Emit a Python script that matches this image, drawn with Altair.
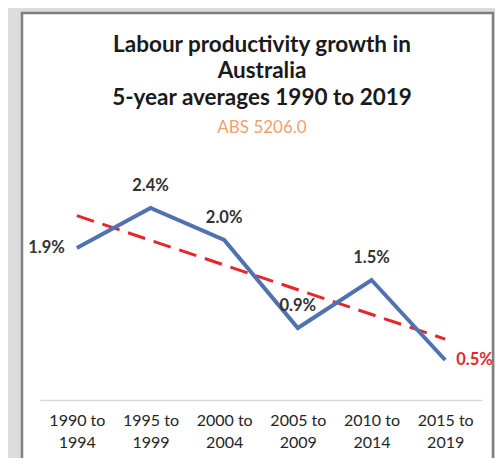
import altair as alt
import pandas as pd

periods = ["1990 to 1994", "1995 to 1999", "2000 to 2004", "2005 to 2009", "2010 to 2014", "2015 to 2019"]
growth = [1.9, 2.4, 2.0, 0.9, 1.5, 0.5]
labels = ["1.9%", "2.4%", "2.0%", "0.9%", "1.5%", "0.5%"]
title_lines = ["Labour productivity growth in", "Australia", "5-year averages 1990 to 2019"]
subtitle = "ABS 5206.0"

df = pd.DataFrame({"period": periods, "growth": growth, "label": labels})

FONT = "Lato"
xscale = alt.Scale(type="point", padding=0.5, domain=periods)
yscale = alt.Scale(domain=[0, 3])

base = alt.Chart(df)
one = alt.Data(values=[{"f": 1}])

frame = alt.Chart(one).mark_rect(
    fill="white", stroke="#7f7f7f", strokeWidth=2.5
).encode(
    x=alt.value(-18), x2=alt.value(453), y=alt.value(-147), y2=alt.value(320)
)

def title_text(txt, ypos, **kw):
    return alt.Chart(one).mark_text(font=FONT, align="center", baseline="middle", **kw).encode(
        x=alt.value(222), y=alt.value(ypos), text=alt.value(txt)
    )

titles = [
    title_text(title_lines[0], -115, fontSize=22.5, fontWeight="bold", color="#1a1a1a"),
    title_text(title_lines[1], -89, fontSize=22.5, fontWeight="bold", color="#1a1a1a"),
    title_text(title_lines[2], -62, fontSize=22.5, fontWeight="bold", color="#1a1a1a"),
    title_text(subtitle, -32, fontSize=17, color="#f0a070"),
]

line = base.mark_line(color="#4f72b0", strokeWidth=4).encode(
    x=alt.X("period:N", sort=periods, scale=xscale,
            axis=alt.Axis(title=None, labelAngle=0, ticks=False, zindex=1,
                          labelExpr="[slice(datum.label,0,7), slice(datum.label,8)]",
                          labelFont=FONT, labelFontSize=16, labelColor="#262626",
                          labelLineHeight=22, labelPadding=12,
                          domainColor="#d9d9d9", domainWidth=1.5)),
    y=alt.Y("growth:Q", scale=yscale, axis=None),
)

trend = base.transform_window(idx="row_number()").transform_regression(
    "idx", "growth"
).mark_line(color="#e8262a", strokeWidth=3, strokeDash=[18, 9]).encode(
    x=alt.X("idx:Q", scale=alt.Scale(domain=[0.5, 6.5]), axis=None),
    y=alt.Y("growth:Q", scale=yscale, axis=None),
)

def text_layer(sel, **kw):
    return base.transform_filter(
        alt.FieldOneOfPredicate(field="period", oneOf=sel)
    ).mark_text(font=FONT, fontSize=16.5, fontWeight="bold", baseline="middle", **kw).encode(
        x=alt.X("period:N", sort=periods, scale=xscale, axis=None),
        y=alt.Y("growth:Q", scale=yscale, axis=None),
        text="label:N",
    )

t_left = text_layer(periods[:1], align="right", dx=-12, color="#333333")
t_mid = text_layer(periods[1:5], align="center", dy=-22, color="#333333")
t_right = text_layer(periods[5:], align="left", dx=11, color="#e8262a")

chart = alt.layer(frame, *titles, trend, line, t_left, t_mid, t_right).resolve_scale(
    x="independent"
).properties(
    width=442, height=240,
    autosize=alt.AutoSizeParams(type="none"),
    padding={"left": 32, "top": 152, "right": 13, "bottom": 58},
    background="#dcdcdc",
).configure_view(stroke=None)

chart.save("out.html", embed_options={"renderer": "svg", "actions": False})
